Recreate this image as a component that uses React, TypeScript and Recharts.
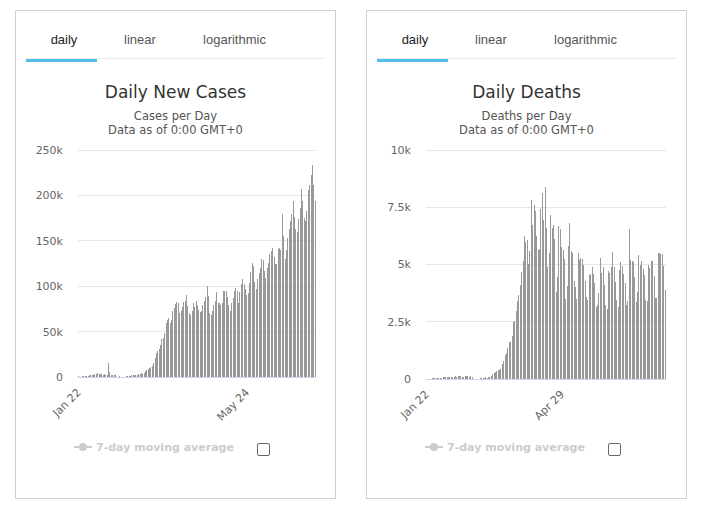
import { Bar, BarChart, CartesianGrid, XAxis, YAxis } from 'recharts'

const FONT = '"DejaVu Sans", Verdana, sans-serif'
const TAB_FONT = '"Liberation Sans", Arial, sans-serif'

const months = ['Jan', 'Feb', 'Mar', 'Apr', 'May', 'Jun', 'Jul']
const monthDays = [31, 29, 31, 30, 31, 30, 31]

// categories: Jan 22 .. Jul 13
const dates: string[] = []
for (let m = 0; m < months.length; m++) {
  const first = m === 0 ? 22 : 1
  const last = m === months.length - 1 ? 13 : monthDays[m]
  for (let d = first; d <= last; d++) dates.push(`${months[m]} ${d}`)
}

// daily new cases, thousands
const casesK = [
  0.6, 0.1, 0.3, 0.7, 0.8, 0.8, 1.4, 1.3, 1.8, 2.0,
  2.1, 2.6, 2.8, 3.2, 3.9, 3.7, 3.2, 3.4, 2.7, 3.0, 2.6, 2.0,
  15.1,
  5.1, 2.6, 2.1, 2.0, 1.9,
  0.4, 0.5, 0.6, 0.4, 0.5, 0.3, 0.4, 0.8, 0.9, 1.2, 1.6,
  1.8, 1.9, 2.4, 2.6, 2.3, 2.9, 2.8, 4.0, 3.8, 4.6,
  6.6, 7.5, 8.8,
  10, 11, 12, 15, 20.5, 26, 29, 30.5, 35, 42,
  43, 48, 59, 63, 65, 60, 63, 73, 76, 80,
  83, 81, 70, 73, 77, 83, 84, 90, 78, 71,
  68, 73, 81, 77, 84, 79, 74, 72, 73, 79,
  84, 88, 100, 89, 70, 68, 73, 79, 84, 94,
  82, 81, 79, 81, 95, 95, 95, 88, 79, 73,
  81, 87, 95, 98,
  95, 82, 94, 102, 107.5, 102, 96.5, 90, 93, 103,
  116, 126, 122, 105, 96.5, 107.5, 114.5, 120, 130, 128.5,
  117, 108.7, 120, 126, 135, 139, 142, 132, 125, 124,
  140.6, 142.4, 139.5, 180, 155, 129.6, 139.5, 152.7, 162.6, 171.8,
  179, 194, 176, 162.6, 160, 173.6, 186.5, 206.7, 194, 175.5,
  171.8, 182.8, 205.6, 211.5, 223, 234, 212, 194,
]

// daily deaths, thousands
const deathsK = [
  0.01, 0.02, 0.02, 0.02, 0.03, 0.03, 0.04, 0.04, 0.05, 0.05,
  0.06, 0.06, 0.07, 0.07, 0.07, 0.09, 0.09, 0.1, 0.1, 0.1, 0.1, 0.12,
  0.1, 0.14, 0.14, 0.14, 0.1, 0.1, 0.13, 0.12, 0.11, 0.1, 0.15, 0.07,
  0.01, 0.01, 0.01, 0.01, 0.02, 0.05, 0.06, 0.06, 0.06, 0.07, 0.06, 0.08,
  0.1, 0.12, 0.2, 0.25, 0.3, 0.35, 0.4,
  0.38, 0.44, 0.64, 0.79, 1.03, 1.14, 1.35, 1.6, 1.6, 1.88,
  2.47, 2.55, 2.95, 3.42, 3.68, 4.12, 4.69, 5.17, 6.26, 5.97, 6.08, 5.02,
  5.6, 7.82, 6.72, 7.61, 7.35, 6.26, 5.63, 5.66, 7.42, 8.12, 6.96, 8.4,
  6.6, 4.9, 5.5, 7.16, 6.58, 6.71, 6.1, 3.81, 4.45, 6.68, 6.56, 5.76, 5.63, 5.23, 3.48, 4.06,
  5.8, 6.8, 5.6, 5.5, 4.3, 4.0, 3.5, 5.5, 5.2, 5.3,
  5.25, 5.0, 4.3, 3.6, 3.45, 4.55, 4.6, 4.9, 4.6, 4.2,
  3.15, 3.25, 3.75, 5.3, 4.65, 4.9, 4.1, 3.25, 3.05, 4.7,
  4.65, 4.9, 5.55, 4.9, 4.25, 3.45, 3.15, 4.75, 5.1, 4.95,
  4.6, 4.2, 3.25, 3.4,
  6.55, 5.2, 5.15, 5.1, 4.45, 3.35, 3.8, 5.4, 5.0, 5.15,
  4.8, 4.55, 3.45, 3.4, 5.0, 4.85, 5.15, 5.15, 4.5, 3.55,
  3.55, 5.5, 5.5, 5.45, 5.45, 4.95, 3.9,
]

const casesTicks = [0, 50, 100, 150, 200, 250]
const deathsTicks = [0, 2.5, 5, 7.5, 10]
const casesDateLabels = ['Jan 22', 'May 24']
const deathsDateLabels = ['Jan 22', 'Apr 29']
const tabs = ['daily', 'linear', 'logarithmic']
const tabCenters = [64, 140, 234.5]

const casesData = dates.map((date, i) => ({ date, value: casesK[i] }))
const deathsData = dates.map((date, i) => ({ date, value: deathsK[i] }))

type PanelProps = {
  left: number
  title: string
  subtitle: string
  data: { date: string; value: number }[]
  yTicks: number[]
  dateLabels: string[]
  yAxisWidth: number
  plotWidth: number
  plotHeight: number
}

function Panel({ left, title, subtitle, data, yTicks, dateLabels, yAxisWidth, plotWidth, plotHeight }: PanelProps) {
  const dx = left - 15
  const renderTick = (props: any) => {
    const { x, y, payload } = props
    if (!dateLabels.includes(payload.value)) return <g />
    const tx = x + 3
    const ty = y + 16
    return (
      <text x={tx} y={ty} transform={`rotate(-45 ${tx} ${ty})`} textAnchor='end' fontSize={11} fill='#666' fontFamily={FONT}>
        {payload.value}
      </text>
    )
  }
  return (
    <>
      <div style={{ position: 'absolute', left, top: 10, width: 321, height: 489, boxSizing: 'border-box', border: '1px solid #cfcfcf' }} />
      <div style={{ position: 'absolute', left: 26 + dx, top: 58, width: 299, height: 1, background: '#ebebeb' }} />
      <div style={{ position: 'absolute', left: 26 + dx, top: 59, width: 71, height: 3, background: '#56bfe9' }} />
      {tabs.map((t, i) => (
        <div key={t} style={{ position: 'absolute', left: tabCenters[i] + dx - 50, width: 100, top: 32, lineHeight: '16px', textAlign: 'center', fontFamily: TAB_FONT, fontSize: 13, color: i === 0 ? '#222' : '#555' }}>
          {t}
        </div>
      ))}
      <div style={{ position: 'absolute', left: 15 + dx, width: 321, top: 81, lineHeight: '22px', textAlign: 'center', fontFamily: FONT, fontSize: 17, color: '#333' }}>
        {title}
      </div>
      <div style={{ position: 'absolute', left: 15 + dx, width: 321, top: 109, lineHeight: '15px', textAlign: 'center', fontFamily: FONT, fontSize: 11.5, color: '#555' }}>
        {subtitle}
      </div>
      <div style={{ position: 'absolute', left: 15 + dx, width: 321, top: 123, lineHeight: '15px', textAlign: 'center', fontFamily: FONT, fontSize: 11.5, color: '#555' }}>
        Data as of 0:00 GMT+0
      </div>
      <div style={{ position: 'absolute', left, top: 139.5, shapeRendering: 'crispEdges' }}>
        <BarChart
          width={yAxisWidth + plotWidth + 4}
          height={10 + plotHeight + 60}
          data={data}
          margin={{ top: 10, right: 4, bottom: 0, left: 0 }}
          style={{ overflow: 'visible' }}
        >
          <CartesianGrid vertical={false} stroke='#e6e6e6' />
          <YAxis
            width={yAxisWidth}
            domain={[0, yTicks[yTicks.length - 1]]}
            ticks={yTicks}
            axisLine={false}
            tickLine={false}
            tickSize={0}
            tickMargin={15}
            tick={{ fontSize: 11, fill: '#666', fontFamily: FONT }}
            tickFormatter={(v) => (v === 0 ? '0' : `${v}k`)}
          />
          <XAxis
            dataKey='date'
            interval={0}
            height={60}
            tickLine={false}
            tickSize={0}
            tickMargin={0}
            axisLine={{ stroke: '#ccd6eb' }}
            tick={renderTick}
          />
          <Bar dataKey='value' fill='#999999' barSize={1} isAnimationActive={false} />
        </BarChart>
      </div>
      <svg style={{ position: 'absolute', left: 74 + dx, top: 441 }} width={18} height={12}>
        <line x1={0} y1={6} x2={18} y2={6} stroke='#cccccc' strokeWidth={2} />
        <circle cx={9} cy={6} r={4} fill='#cccccc' />
      </svg>
      <div style={{ position: 'absolute', left: 96 + dx, top: 439.5, lineHeight: '16px', fontFamily: FONT, fontSize: 11, fontWeight: 'bold', color: '#cccccc', whiteSpace: 'nowrap' }}>
        7-day moving average
      </div>
      <div style={{ position: 'absolute', left: 257 + dx, top: 443, width: 13, height: 13, boxSizing: 'border-box', border: '1px solid #666', borderRadius: 2 }} />
    </>
  )
}

export default function App() {
  return (
    <div style={{ position: 'absolute', left: 0, top: 0, width: 704, height: 519, background: '#fff' }}>
      <Panel left={15} title='Daily New Cases' subtitle='Cases per Day' data={casesData} yTicks={casesTicks} dateLabels={casesDateLabels} yAxisWidth={63} plotWidth={238} plotHeight={227} />
      <Panel left={366} title='Daily Deaths' subtitle='Deaths per Day' data={deathsData} yTicks={deathsTicks} dateLabels={deathsDateLabels} yAxisWidth={60} plotWidth={240} plotHeight={229} />
    </div>
  )
}
